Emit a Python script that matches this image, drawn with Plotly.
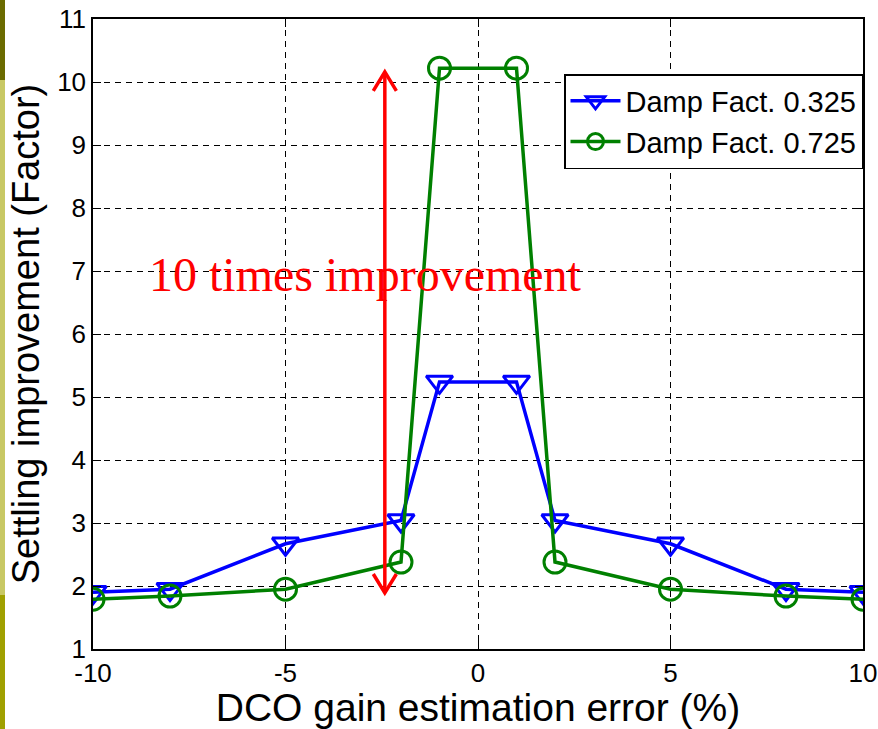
import plotly.graph_objects as go

# ---- data ----
x_err = [-10, -8, -5, -2, -1, 1, 2, 5, 8, 10]
damp_0325 = [1.90, 1.95, 2.67, 3.04, 5.24, 5.24, 3.04, 2.67, 1.95, 1.90]
damp_0725 = [1.79, 1.84, 1.95, 2.38, 10.22, 10.22, 2.38, 1.95, 1.84, 1.79]
series_names = ["Damp Fact. 0.325", "Damp Fact. 0.725"]
x_ticks = [-10, -5, 0, 5, 10]
y_ticks = list(range(1, 12))

# annotation arrow (data units)
arrow_x = -2.42
arrow_y0 = 1.89
arrow_y1 = 10.16
head_dx = 0.30
head_dy = 0.30
note_text = "10 times improvement"
note_x = -2.92
note_y = 6.95

fig = go.Figure()

fig.add_trace(go.Scatter(
    x=x_err, y=damp_0325, mode="lines+markers", name=series_names[0],
    line=dict(color="#0000FF", width=3.5),
    marker=dict(symbol="triangle-down-open", size=23, color="#0000FF",
                line=dict(width=3, color="#0000FF")),
))
fig.add_trace(go.Scatter(
    x=x_err, y=damp_0725, mode="lines+markers", name=series_names[1],
    line=dict(color="#008000", width=3.5),
    marker=dict(symbol="circle-open", size=22, color="#008000",
                line=dict(width=3, color="#008000")),
))

# red double arrow
arrow_xs = [arrow_x, arrow_x, None,
            arrow_x - head_dx, arrow_x, arrow_x + head_dx, None,
            arrow_x - head_dx, arrow_x, arrow_x + head_dx]
arrow_ys = [arrow_y0, arrow_y1, None,
            arrow_y1 - head_dy, arrow_y1, arrow_y1 - head_dy, None,
            arrow_y0 + head_dy, arrow_y0, arrow_y0 + head_dy]
fig.add_trace(go.Scatter(
    x=arrow_xs, y=arrow_ys, mode="lines", showlegend=False, hoverinfo="skip",
    line=dict(color="#FF0000", width=3.5),
))

fig.add_annotation(
    x=note_x, y=note_y, xref="x", yref="y", text=note_text, showarrow=False,
    font=dict(family="Liberation Serif, Times New Roman, serif", size=48, color="#FF0000"),
    xanchor="center", yanchor="middle",
)

# left slide strip
L, R, T, B = 93, 15, 19, 80
W, H = 878, 729
pw, ph = W - L - R, H - T - B
def px_x(p):
    return (p - L) / pw
def px_y(p):
    return (H - B - p) / ph
strip = [(0, 80, "#6B6B00"), (80, 595, "#C8C864"), (595, 729, "#A0A000")]
for y0, y1, c in strip:
    fig.add_shape(type="rect", xref="paper", yref="paper",
                  x0=px_x(0), x1=px_x(5), y0=px_y(y1), y1=px_y(y0),
                  fillcolor=c, line=dict(width=0), layer="below")

axis_common = dict(
    showline=True, linecolor="black", linewidth=1.5, mirror="ticks",
    ticks="inside", ticklen=8, tickcolor="black", tickwidth=1,
    showgrid=True, gridcolor="black", gridwidth=1, griddash="6px,5px",
    zeroline=False, automargin=False,
    tickfont=dict(family="Liberation Sans, Arial, sans-serif", size=26, color="black"),
)

fig.update_xaxes(
    range=[-10, 10], tickvals=x_ticks, ticktext=[str(v) for v in x_ticks],
    title=dict(text="DCO gain estimation error (%)", standoff=4,
               font=dict(family="Liberation Sans, Arial, sans-serif", size=39, color="black")),
    **axis_common,
)
fig.update_yaxes(
    range=[1, 11], tickvals=y_ticks, ticktext=[str(v) for v in y_ticks],
    title=dict(text="Settling improvement (Factor)", standoff=6,
               font=dict(family="Liberation Sans, Arial, sans-serif", size=38, color="black")),
    **axis_common,
)

fig.update_layout(
    width=W, height=H,
    margin=dict(l=L, r=R, t=T, b=B, autoexpand=False),
    paper_bgcolor="white", plot_bgcolor="white",
    showlegend=True,
    legend=dict(
        x=1, y=px_y(74), xanchor="right", yanchor="top",
        bgcolor="white", bordercolor="black", borderwidth=1.5,
        font=dict(family="Liberation Sans, Arial, sans-serif", size=29, color="black"),
        itemwidth=50, entrywidth=285, entrywidthmode="pixels",
    ),
)

fig.write_html("out.html")
